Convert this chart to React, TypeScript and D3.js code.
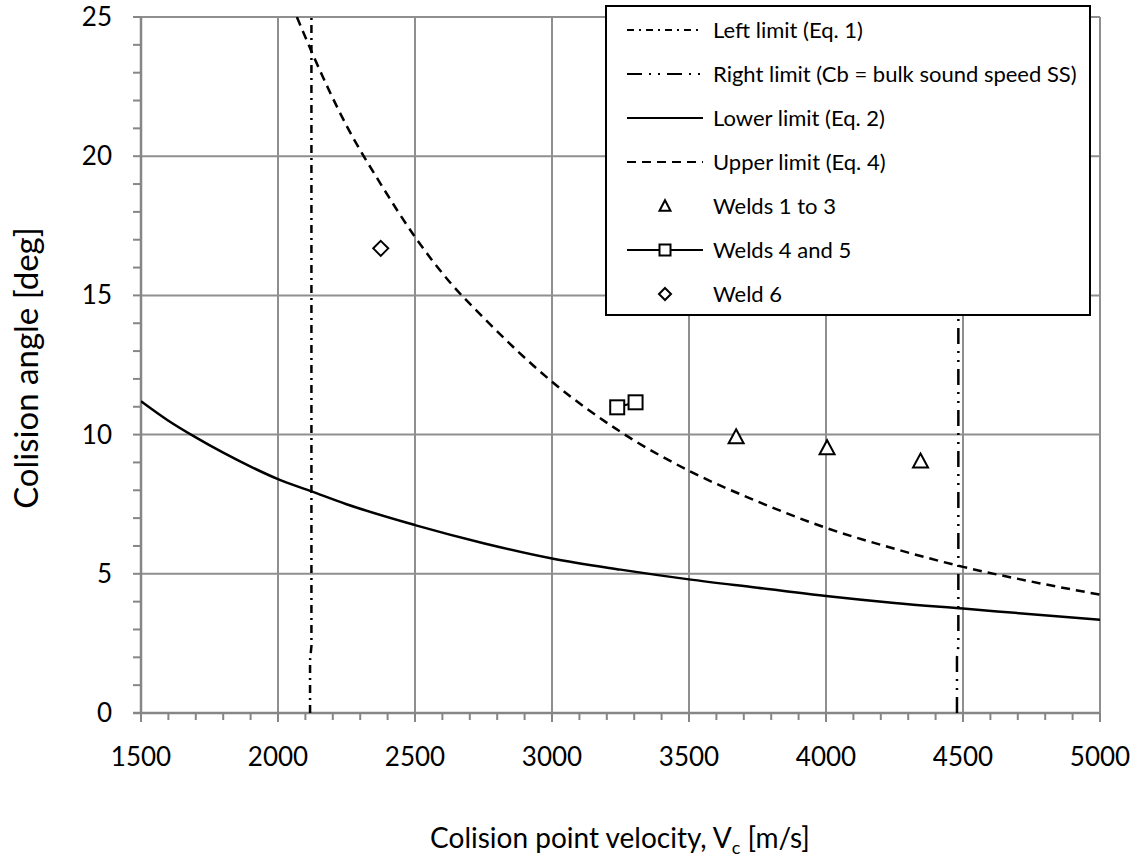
import React from "react";
import * as d3 from "d3";

type P = { x: number; y: number };

// ----- data -----
const xTicks = [1500, 2000, 2500, 3000, 3500, 4000, 4500, 5000];
const yTicks = [0, 5, 10, 15, 20, 25];

const lowerLimit: P[] = [
  { x: 1500, y: 11.2 }, { x: 1600, y: 10.5 }, { x: 1700, y: 9.9 }, { x: 1800, y: 9.35 },
  { x: 1900, y: 8.85 }, { x: 2000, y: 8.4 }, { x: 2125, y: 7.95 }, { x: 2250, y: 7.5 },
  { x: 2500, y: 6.75 }, { x: 2750, y: 6.1 }, { x: 3000, y: 5.55 }, { x: 3250, y: 5.15 },
  { x: 3500, y: 4.8 }, { x: 3750, y: 4.5 }, { x: 4000, y: 4.2 }, { x: 4250, y: 3.95 },
  { x: 4500, y: 3.75 }, { x: 4750, y: 3.55 }, { x: 5000, y: 3.35 },
];

const upperLimit: P[] = [
  { x: 2069, y: 25 }, { x: 2125, y: 23.7 }, { x: 2250, y: 21.1 }, { x: 2375, y: 19.0 },
  { x: 2500, y: 17.1 }, { x: 2625, y: 15.5 }, { x: 2750, y: 14.2 }, { x: 3000, y: 11.9 },
  { x: 3250, y: 10.1 }, { x: 3500, y: 8.7 }, { x: 3750, y: 7.6 }, { x: 4000, y: 6.65 },
  { x: 4250, y: 5.9 }, { x: 4500, y: 5.25 }, { x: 4750, y: 4.72 }, { x: 5000, y: 4.25 },
];

const leftLimit: P[] = [
  { x: 2117, y: 0 }, { x: 2117, y: 1.9 }, { x: 2122, y: 2.4 }, { x: 2122, y: 25 },
];

const rightLimit: P[] = [
  { x: 4478, y: 0 }, { x: 4478, y: 2.0 }, { x: 4483, y: 2.4 }, { x: 4483, y: 25 },
];

const welds1to3: P[] = [
  { x: 3672, y: 9.92 }, { x: 4004, y: 9.53 }, { x: 4345, y: 9.05 },
];
const welds4and5: P[] = [
  { x: 3238, y: 10.98 }, { x: 3305, y: 11.16 },
];
const weld6: P[] = [{ x: 2375, y: 16.69 }];

const legendLabels = [
  "Left limit (Eq. 1)",
  "Right limit (Cb = bulk sound speed SS)",
  "Lower limit (Eq. 2)",
  "Upper limit (Eq. 4)",
  "Welds 1 to 3",
  "Welds 4 and 5",
  "Weld 6",
];

const FONT = "Lato, 'Open Sans', sans-serif";
const GRID = "#8f8f8f";
const AXIS = "#868686";

const LEFT_DASH = "8,5,2,5";
const RIGHT_DASH = "16,7,2,7,2,7";
const UPPER_DASH = "9,6";

function Triangle({ cx, cy, s }: { cx: number; cy: number; s: number }) {
  const h = s * 0.87;
  const pts = `${cx},${cy - h / 2 - 1} ${cx + s / 2},${cy + h / 2} ${cx - s / 2},${cy + h / 2}`;
  return <polygon points={pts} fill="white" stroke="black" strokeWidth={2} strokeLinejoin="miter" />;
}
function Square({ cx, cy, s }: { cx: number; cy: number; s: number }) {
  return <rect x={cx - s / 2} y={cy - s / 2} width={s} height={s} fill="white" stroke="black" strokeWidth={2} />;
}
function Diamond({ cx, cy, s }: { cx: number; cy: number; s: number }) {
  const r = s / 2;
  const pts = `${cx},${cy - r} ${cx + r},${cy} ${cx},${cy + r} ${cx - r},${cy}`;
  return <polygon points={pts} fill="white" stroke="black" strokeWidth={2} />;
}

export default function App() {
  const W = 1140, H = 867;
  const x = d3.scaleLinear().domain([1500, 5000]).range([141, 1100]);
  const y = d3.scaleLinear().domain([0, 25]).range([713, 17]);

  const line = d3.line<P>().x((d) => x(d.x)).y((d) => y(d.y));
  const smooth = d3.line<P>().x((d) => x(d.x)).y((d) => y(d.y)).curve(d3.curveMonotoneX);

  const xMinor = d3.range(1500, 5001, 100);
  const yMinor = d3.range(0, 26, 1);

  const lg = { x0: 606, y0: 6, x1: 1090, y1: 315 };
  const rowY = (i: number) => 30 + i * 44;
  const sx0 = 627, sx1 = 703, mx = 665, tx = 713;

  return (
    <svg width={W} height={H} style={{ position: "absolute", left: 0, top: 0, background: "white" }}
      fontFamily={FONT}>
      <rect x={0} y={0} width={W} height={H} fill="white" />
      <defs>
        <clipPath id="plot">
          <rect x={141} y={17} width={959} height={696} />
        </clipPath>
      </defs>

      {/* gridlines */}
      {xTicks.filter((t) => t > 1500).map((t) => (
        <line key={"gx" + t} x1={x(t)} x2={x(t)} y1={y(25)} y2={y(0)} stroke={GRID} strokeWidth={2} />
      ))}
      {yTicks.filter((t) => t > 0).map((t) => (
        <line key={"gy" + t} x1={x(1500)} x2={x(5000)} y1={y(t)} y2={y(t)} stroke={GRID} strokeWidth={2} />
      ))}

      {/* axes */}
      {xMinor.map((t) => (
        <line key={"mx" + t} x1={x(t)} x2={x(t)} y1={y(0)} y2={y(0) + (t % 500 === 0 ? 9 : 7)} stroke={AXIS} strokeWidth={2} />
      ))}
      {yMinor.map((t) => (
        <line key={"my" + t} x1={x(1500) - 8} x2={x(1500)} y1={y(t)} y2={y(t)} stroke={AXIS} strokeWidth={2} />
      ))}
      <line x1={x(1500)} x2={x(1500)} y1={y(25)} y2={y(0)} stroke={AXIS} strokeWidth={2.5} />
      <line x1={x(1500) - 8} x2={x(5000)} y1={y(0)} y2={y(0)} stroke={AXIS} strokeWidth={2.5} />

      {/* tick labels */}
      {xTicks.map((t) => (
        <text key={"tx" + t} x={x(t)} y={766} textAnchor="middle" fontSize={26} fill="black">{t}</text>
      ))}
      {yTicks.map((t) => (
        <text key={"ty" + t} x={112} y={y(t) + 9} textAnchor="end" fontSize={26} fill="black">{t}</text>
      ))}

      {/* axis titles */}
      <text x={620} y={848} textAnchor="middle" fontSize={28} fill="black">
        Colision point velocity, V<tspan fontSize={18} dy={6}>c</tspan><tspan dy={-6}> [m/s]</tspan>
      </text>
      <text transform={`translate(38,368) rotate(-90)`} textAnchor="middle" fontSize={33} fill="black">
        Colision angle [deg]
      </text>

      {/* series */}
      <g clipPath="url(#plot)">
        <path d={line(leftLimit) || ""} fill="none" stroke="black" strokeWidth={2.5} strokeDasharray={LEFT_DASH} />
        <path d={line(rightLimit) || ""} fill="none" stroke="black" strokeWidth={2.5} strokeDasharray={RIGHT_DASH} />
        <path d={smooth(lowerLimit) || ""} fill="none" stroke="black" strokeWidth={2.5} />
        <path d={smooth(upperLimit) || ""} fill="none" stroke="black" strokeWidth={2.5} strokeDasharray={UPPER_DASH} />
      </g>
      <path d={line(welds4and5) || ""} fill="none" stroke="black" strokeWidth={2} />
      {welds1to3.map((d, i) => <Triangle key={"t" + i} cx={x(d.x)} cy={y(d.y)} s={15} />)}
      {welds4and5.map((d, i) => <Square key={"s" + i} cx={x(d.x)} cy={y(d.y)} s={14} />)}
      {weld6.map((d, i) => <Diamond key={"d" + i} cx={x(d.x)} cy={y(d.y)} s={15} />)}

      {/* legend */}
      <rect x={lg.x0} y={lg.y0} width={lg.x1 - lg.x0} height={lg.y1 - lg.y0} fill="white" stroke="black" strokeWidth={2} />
      <line x1={sx0} x2={sx1} y1={rowY(0)} y2={rowY(0)} stroke="black" strokeWidth={2} strokeDasharray={"7,5,2,5"} />
      <line x1={sx0} x2={sx1} y1={rowY(1)} y2={rowY(1)} stroke="black" strokeWidth={2} strokeDasharray={"15,7,2,7,2,7"} />
      <line x1={sx0} x2={sx1} y1={rowY(2)} y2={rowY(2)} stroke="black" strokeWidth={2} />
      <line x1={sx0} x2={sx1} y1={rowY(3)} y2={rowY(3)} stroke="black" strokeWidth={2} strokeDasharray={"9,6"} />
      <Triangle cx={mx} cy={rowY(4)} s={11} />
      <line x1={sx0} x2={sx1} y1={rowY(5)} y2={rowY(5)} stroke="black" strokeWidth={2} />
      <Square cx={mx} cy={rowY(5)} s={11} />
      <Diamond cx={mx} cy={rowY(6)} s={12} />
      {legendLabels.map((l, i) => (
        <text key={"lg" + i} x={tx} y={rowY(i) + 8} fontSize={22} fill="black">{l}</text>
      ))}
    </svg>
  );
}
